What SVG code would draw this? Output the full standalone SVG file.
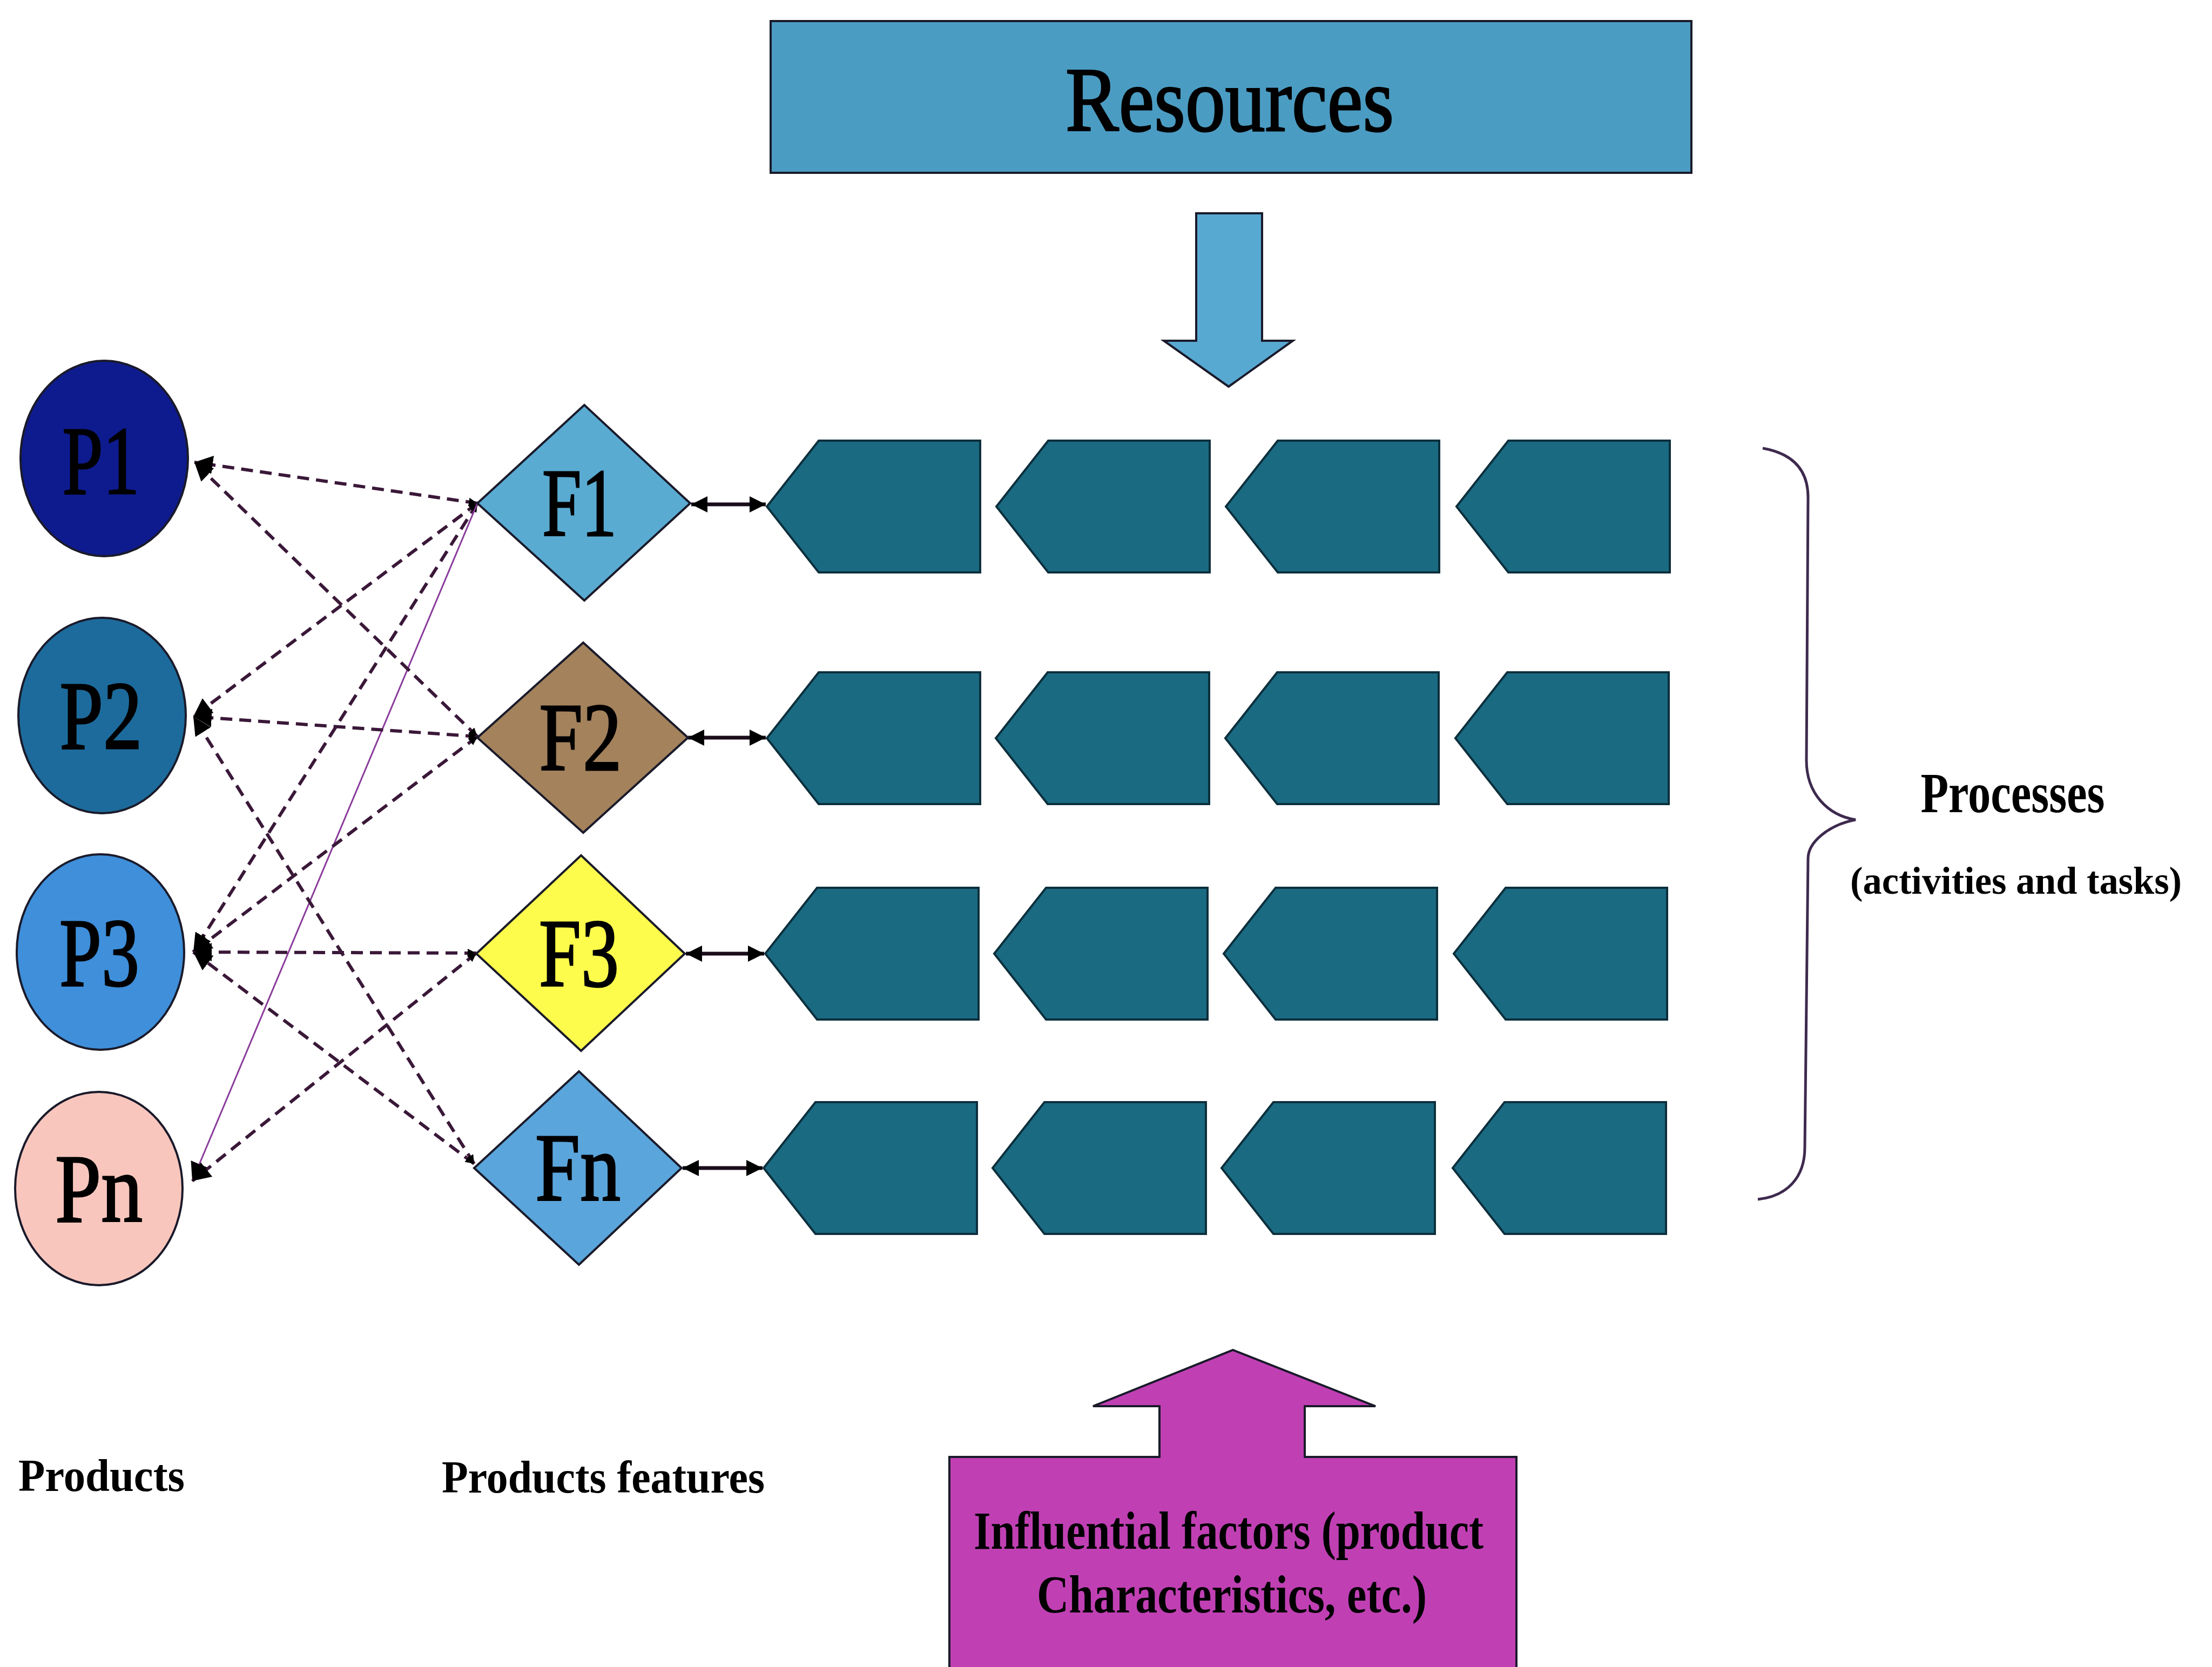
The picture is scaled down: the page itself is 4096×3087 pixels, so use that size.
<svg xmlns="http://www.w3.org/2000/svg" xmlns:xlink="http://www.w3.org/1999/xlink" width="4096" height="3087" viewBox="0 0 4096 3087">
  <style>
    .lbl { font-family: "Liberation Serif", "Times New Roman", serif; fill: #000; }
    .big { font-size: 180px; text-anchor: middle; stroke: #000; stroke-width: 3; }
    .bold { font-weight: bold; }
    .node { stroke: #1a1a2a; stroke-width: 4; }
    .step { fill: #1a6a82; stroke: #0c2f3c; stroke-width: 4; }
    .dash { fill: none; stroke: #3a1838; stroke-width: 6; stroke-dasharray: 22 13; marker-end: url(#head); marker-start: url(#tiny); }
    .thin { fill: none; stroke: #8a3c9a; stroke-width: 3; marker-end: url(#head); }
    .link { fill: none; stroke: #1a0d1a; stroke-width: 7; marker-start: url(#dbl); marker-end: url(#dbl); }
  </style>
  <defs>
    <marker id="head" viewBox="0 0 10 10" refX="10" refY="5" markerWidth="34" markerHeight="34" markerUnits="userSpaceOnUse" orient="auto">
      <path d="M0 0 L10 5 L0 10 Z" fill="#000"/>
    </marker>
    <marker id="tiny" viewBox="0 0 10 10" refX="0" refY="5" markerWidth="16" markerHeight="16" markerUnits="userSpaceOnUse" orient="auto">
      <path d="M10 0 L0 5 L10 10 Z" fill="#000"/>
    </marker>
    <marker id="dbl" viewBox="0 0 10 10" refX="10" refY="5" markerWidth="30" markerHeight="34" markerUnits="userSpaceOnUse" orient="auto-start-reverse">
      <path d="M0 0 L10 5 L0 10 Z" fill="#000"/>
    </marker>
    <path id="stepShape" d="M0 0 L96 -122 L395 -122 L395 122 L96 122 Z"/>
  </defs>

  <rect width="4096" height="3087" fill="#ffffff"/>

  <!-- Resources banner and its down arrow -->
  <g id="resources">
    <rect x="1427" y="39" width="1705" height="281" fill="#4b9cc2" class="node" stroke-width="6"/>
    <text class="lbl" x="2277" y="242" font-size="170" text-anchor="middle" textLength="608" lengthAdjust="spacingAndGlyphs" stroke="#000" stroke-width="3">Resources</text>
  </g>
  <g id="resources-arrow">
    <path d="M2215 395 L2337 395 L2337 631 L2394 631 L2275 716 L2155 631 L2215 631 Z" fill="#58a9d2" class="node"/>
  </g>

  <!-- Connectors -->
  <g id="connectors">
    <line class="dash" x1="884" y1="932" x2="360" y2="856"/>
    <line class="dash" x1="884" y1="932" x2="358" y2="1327"/>
    <line class="dash" x1="884" y1="932" x2="358" y2="1763"/>
    <line class="thin" x1="884" y1="932" x2="356" y2="2187"/>
    <line class="dash" x1="884" y1="1364" x2="360" y2="856"/>
    <line class="dash" x1="884" y1="1364" x2="358" y2="1327"/>
    <line class="dash" x1="884" y1="1364" x2="358" y2="1763"/>
    <line class="dash" x1="882" y1="1765" x2="358" y2="1763"/>
    <line class="dash" x1="882" y1="1765" x2="356" y2="2187"/>
    <line class="dash" x1="878" y1="2155" x2="358" y2="1327"/>
    <line class="dash" x1="878" y1="2155" x2="358" y2="1763"/>
    <line class="link" x1="1280" y1="934" x2="1418" y2="934"/>
    <line class="link" x1="1274" y1="1366" x2="1418" y2="1366"/>
    <line class="link" x1="1270" y1="1766" x2="1415" y2="1766"/>
    <line class="link" x1="1264" y1="2163" x2="1412" y2="2163"/>
    <!-- brace grouping the process rows -->
    <path d="M3264 830 C3320 840 3348 870 3348 921 L3345 1408 C3345 1470 3385 1510 3436 1518 C3385 1528 3348 1560 3348 1590 L3342 2125 C3342 2180 3310 2215 3255 2221" fill="none" stroke="#3e2a4e" stroke-width="5"/>
  </g>

  <!-- Products -->
  <g id="P1"><ellipse cx="193" cy="849" rx="155" ry="181" fill="#0e1b8e" class="node"/><text class="lbl big" x="187" y="914" textLength="143" lengthAdjust="spacingAndGlyphs">P1</text></g>
  <g id="P2"><ellipse cx="189" cy="1325" rx="155" ry="181" fill="#1d6b9c" class="node"/><text class="lbl big" x="187" y="1386" textLength="153" lengthAdjust="spacingAndGlyphs">P2</text></g>
  <g id="P3"><ellipse cx="186" cy="1763" rx="155" ry="181" fill="#3f8fda" class="node"/><text class="lbl big" x="184" y="1825" textLength="148" lengthAdjust="spacingAndGlyphs">P3</text></g>
  <g id="Pn"><ellipse cx="183" cy="2201" rx="155" ry="179" fill="#f8c6bd" class="node"/><text class="lbl big" x="183" y="2262" textLength="162" lengthAdjust="spacingAndGlyphs">Pn</text></g>

  <!-- Product features -->
  <g id="F1"><path d="M1082 750 L1278 932 L1082 1112 L884 932 Z" fill="#5aabd2" class="node"/><text class="lbl big" x="1073" y="992" textLength="138" lengthAdjust="spacingAndGlyphs">F1</text></g>
  <g id="F2"><path d="M1080 1190 L1274 1366 L1080 1542 L884 1366 Z" fill="#a3825c" class="node"/><text class="lbl big" x="1075" y="1426" textLength="153" lengthAdjust="spacingAndGlyphs">F2</text></g>
  <g id="F3"><path d="M1076 1584 L1268 1766 L1076 1946 L882 1766 Z" fill="#fdfb4c" class="node"/><text class="lbl big" x="1072" y="1826" textLength="148" lengthAdjust="spacingAndGlyphs">F3</text></g>
  <g id="Fn"><path d="M1072 1984 L1262 2163 L1072 2342 L878 2163 Z" fill="#5aa5db" class="node"/><text class="lbl big" x="1070" y="2223" textLength="158" lengthAdjust="spacingAndGlyphs">Fn</text></g>

  <!-- Process steps (four rows of four) -->
  <g id="row1">
    <g id="s11"><use xlink:href="#stepShape" class="step" x="1420" y="938"/></g>
    <g id="s12"><use xlink:href="#stepShape" class="step" x="1845" y="938"/></g>
    <g id="s13"><use xlink:href="#stepShape" class="step" x="2270" y="938"/></g>
    <g id="s14"><use xlink:href="#stepShape" class="step" x="2697" y="938"/></g>
  </g>
  <g id="row2">
    <g id="s21"><use xlink:href="#stepShape" class="step" x="1420" y="1367"/></g>
    <g id="s22"><use xlink:href="#stepShape" class="step" x="1844" y="1367"/></g>
    <g id="s23"><use xlink:href="#stepShape" class="step" x="2269" y="1367"/></g>
    <g id="s24"><use xlink:href="#stepShape" class="step" x="2695" y="1367"/></g>
  </g>
  <g id="row3">
    <g id="s31"><use xlink:href="#stepShape" class="step" x="1417" y="1766"/></g>
    <g id="s32"><use xlink:href="#stepShape" class="step" x="1841" y="1766"/></g>
    <g id="s33"><use xlink:href="#stepShape" class="step" x="2266" y="1766"/></g>
    <g id="s34"><use xlink:href="#stepShape" class="step" x="2692" y="1766"/></g>
  </g>
  <g id="row4">
    <g id="s41"><use xlink:href="#stepShape" class="step" x="1414" y="2163"/></g>
    <g id="s42"><use xlink:href="#stepShape" class="step" x="1838" y="2163"/></g>
    <g id="s43"><use xlink:href="#stepShape" class="step" x="2262" y="2163"/></g>
    <g id="s44"><use xlink:href="#stepShape" class="step" x="2690" y="2163"/></g>
  </g>

  <!-- Labels -->
  <g id="processes-label">
    <text class="lbl bold" x="3727" y="1504" font-size="105" text-anchor="middle" textLength="341" lengthAdjust="spacingAndGlyphs">Processes</text>
    <text class="lbl bold" x="3733" y="1655" font-size="72" text-anchor="middle" textLength="614" lengthAdjust="spacingAndGlyphs">(activities and tasks)</text>
  </g>
  <g id="products-label">
    <text class="lbl bold" x="34" y="2761" font-size="85" textLength="308" lengthAdjust="spacingAndGlyphs">Products</text>
  </g>
  <g id="features-label">
    <text class="lbl bold" x="818" y="2764" font-size="85" textLength="598" lengthAdjust="spacingAndGlyphs">Products features</text>
  </g>

  <!-- Influential factors block with its up arrow -->
  <g id="influential">
    <path d="M1758 3100 L1758 2698 L2147 2698 L2147 2604 L2024 2604 L2283 2500 L2547 2604 L2416 2604 L2416 2698 L2808 2698 L2808 3100 Z" fill="#c040b4" class="node"/>
    <text class="lbl bold" x="2275" y="2868" font-size="100" text-anchor="middle" textLength="944" lengthAdjust="spacingAndGlyphs">Influential factors (product</text>
    <text class="lbl bold" x="2281" y="2986" font-size="100" text-anchor="middle" textLength="722" lengthAdjust="spacingAndGlyphs">Characteristics, etc.)</text>
  </g>
</svg>
